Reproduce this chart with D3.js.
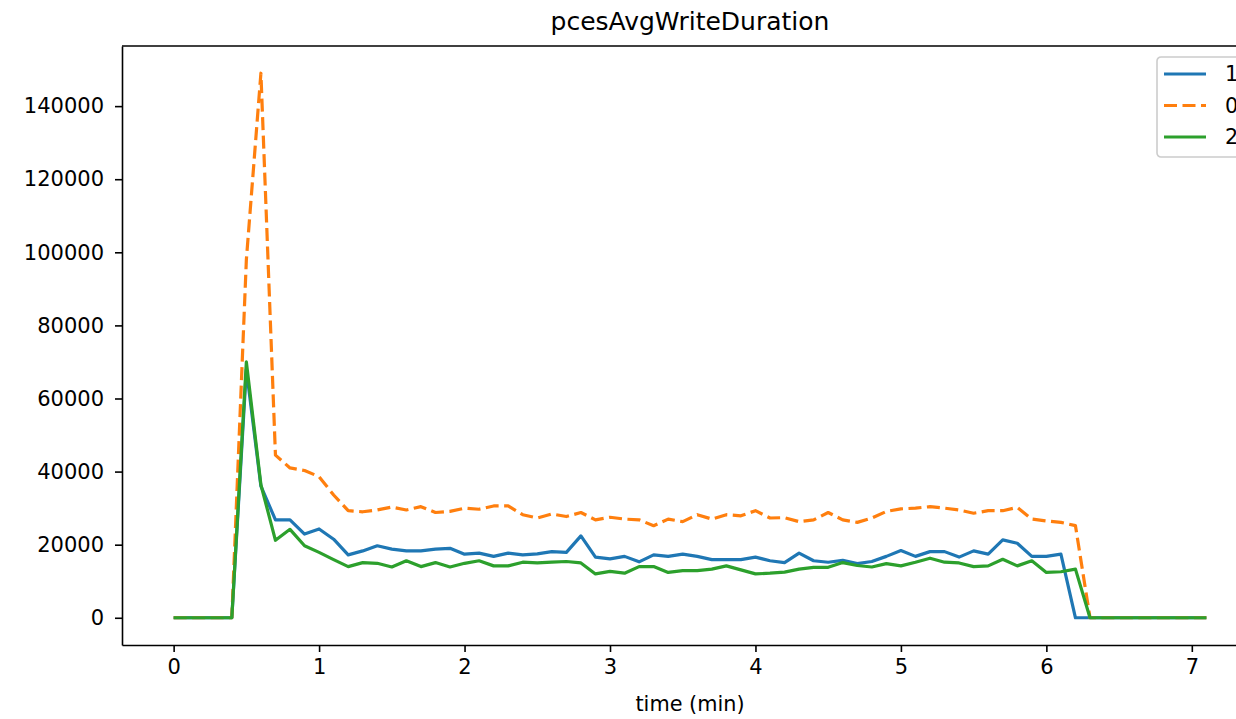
<!DOCTYPE html>
<meta charset="utf-8">

<script src="https://d3js.org/d3.v7.min.js"></script>

<style type="text/css">
  body {
    margin: 0;
    background: #fff;
  }

  svg {
    display: block;
    font-family: "DejaVu Sans", sans-serif;
  }

  .axis text {
    font-family: "DejaVu Sans", sans-serif;
    font-size: 21px;
    fill: #000;
  }

  .axis line,
  .axis path {
    stroke: #000;
    stroke-width: 1.6;
  }
</style>

<body>
</body>

<script>

  // time (min) of each sample
  let times = [
    0.0, 0.1, 0.2, 0.3, 0.4, 0.5, 0.6, 0.7, 0.8, 0.9,
    1.0, 1.1, 1.2, 1.3, 1.4, 1.5, 1.6, 1.7, 1.8, 1.9,
    2.0, 2.1, 2.2, 2.3, 2.4, 2.5, 2.6, 2.7, 2.8, 2.9,
    3.0, 3.1, 3.2, 3.3, 3.4, 3.5, 3.6, 3.7, 3.8, 3.9,
    4.0, 4.1, 4.2, 4.3, 4.4, 4.5, 4.6, 4.7, 4.8, 4.9,
    5.0, 5.1, 5.2, 5.3, 5.4, 5.5, 5.6, 5.7, 5.8, 5.9,
    6.0, 6.1, 6.2, 6.3, 6.4, 6.5, 6.6, 6.7, 6.8, 6.9,
    7.0, 7.1
  ];

  let series1 = [
    0, 0, 0, 0, 0, 68000, 36000, 26800, 26800, 22900,
    24300, 21500, 17200, 18300, 19700, 18800, 18300, 18300, 18800, 19000,
    17400, 17700, 16800, 17700, 17200, 17500, 18100, 17900, 22400, 16600,
    16100, 16800, 15300, 17200, 16800, 17400, 16800, 15900, 15900, 15900,
    16600, 15600, 15100, 17700, 15600, 15200, 15700, 14800, 15400, 16800,
    18400, 16800, 18100, 18100, 16600, 18300, 17400, 21300, 20400, 16800,
    16800, 17400, 0, 0, 0, 0, 0, 0, 0, 0,
    0, 0
  ];

  let series0 = [
    0, 0, 0, 0, 0, 98000, 149000, 44500, 41000, 40300,
    38600, 33600, 29300, 29000, 29500, 30300, 29500, 30400, 28800, 29100,
    30000, 29700, 30600, 30600, 28200, 27300, 28400, 27700, 28800, 26800,
    27500, 27000, 26800, 25200, 27000, 26300, 28200, 27000, 28200, 27900,
    29300, 27300, 27400, 26300, 26800, 28800, 26800, 26100, 27300, 29100,
    29800, 30000, 30400, 30000, 29500, 28600, 29300, 29300, 30200, 27000,
    26500, 26100, 25200, 0, 0, 0, 0, 0, 0, 0,
    0, 0
  ];

  let series2 = [
    0, 0, 0, 0, 0, 70000, 36400, 21200, 24200, 19700,
    17900, 15900, 14000, 15100, 14900, 13900, 15600, 14000, 15100, 13900,
    14900, 15600, 14200, 14200, 15200, 15000, 15200, 15400, 15000, 12000,
    12700, 12200, 14000, 14000, 12400, 12900, 12900, 13300, 14200, 13100,
    12000, 12200, 12500, 13300, 13800, 13800, 15100, 14300, 13900, 14800,
    14200, 15200, 16300, 15200, 15000, 14000, 14200, 16000, 14200, 15600,
    12400, 12600, 13300, 0, 0, 0, 0, 0, 0, 0,
    0, 0
  ];

  let seriesNames = ['1', '0', '2'];
  let seriesColors = ['#1f77b4', '#ff7f0e', '#2ca02c'];
  let seriesDash = [null, '13,5.5', null];
  let xTicks = [0, 1, 2, 3, 4, 5, 6, 7];
  let yTicks = [0, 20000, 40000, 60000, 80000, 100000, 120000, 140000];

  let allSeries = [series1, series0, series2];

  let W = 1236, H = 719;
  let margin = { top: 46, right: -22, bottom: 74, left: 122 };
  let width = W - margin.left - margin.right,
    height = H - margin.top - margin.bottom;

  let svg = d3.select("body").append("svg")
    .attr("width", W)
    .attr("height", H)
    .append("g")
    .attr("transform", "translate(" + margin.left + "," + margin.top + ")");

  // matplotlib style 5% margins
  let xMin = d3.min(times), xMax = d3.max(times);
  let xPad = (xMax - xMin) * 0.05;
  let yMax = d3.max(allSeries, s => d3.max(s));
  let yPad = yMax * 0.05;

  let xScale = d3.scaleLinear()
    .domain([xMin - xPad, xMax + xPad])
    .range([0, width]);

  let yScale = d3.scaleLinear()
    .domain([-yPad, yMax + yPad])
    .range([height, 0]);

  let xAxis = d3.axisBottom(xScale)
    .tickValues(xTicks)
    .tickFormat(d3.format('d'))
    .tickSize(7)
    .tickSizeOuter(0)
    .tickPadding(7);

  let yAxis = d3.axisLeft(yScale)
    .tickValues(yTicks)
    .tickFormat(d3.format('d'))
    .tickSize(7)
    .tickSizeOuter(0)
    .tickPadding(11);

  let line = d3.line()
    .x((d, i) => xScale(times[i]))
    .y(d => yScale(d));

  svg.selectAll('.series')
    .data(allSeries).enter().append('path')
    .attr('class', 'series')
    .attr('d', d => line(d))
    .attr('fill', 'none')
    .attr('stroke', (d, i) => seriesColors[i])
    .attr('stroke-width', 3.2)
    .attr('stroke-linejoin', 'round')
    .attr('stroke-dasharray', (d, i) => seriesDash[i]);

  svg.append('g')
    .attr('class', 'x axis')
    .attr('transform', `translate(0, ${height})`)
    .call(xAxis);

  svg.append('g')
    .attr('class', 'y axis')
    .call(yAxis);

  // top and right spines
  svg.append('line')
    .attr('x1', 0).attr('x2', width)
    .attr('y1', 0).attr('y2', 0)
    .attr('stroke', '#000').attr('stroke-width', 1.6);
  svg.append('line')
    .attr('x1', width).attr('x2', width)
    .attr('y1', 0).attr('y2', height)
    .attr('stroke', '#000').attr('stroke-width', 1.6);

  svg.append('text')
    .attr('x', width / 2)
    .attr('y', -16)
    .attr('text-anchor', 'middle')
    .style('font-size', '25px')
    .text('pcesAvgWriteDuration');

  svg.append('text')
    .attr('x', width / 2)
    .attr('y', height + 66)
    .attr('text-anchor', 'middle')
    .style('font-size', '20.8px')
    .text('time (min)');

  // legend, upper right (partly past the edge, as in the original)
  let legend = svg.append('g')
    .attr('class', 'legend')
    .attr('transform', `translate(${width - 101}, 11)`);

  legend.append('rect')
    .attr('width', 90.5)
    .attr('height', 100)
    .attr('rx', 4)
    .attr('fill', '#fff')
    .attr('fill-opacity', 0.8)
    .attr('stroke', '#cccccc')
    .attr('stroke-width', 1.6);

  let item = legend.selectAll('.item')
    .data(seriesNames).enter().append('g')
    .attr('class', 'item')
    .attr('transform', (d, i) => `translate(0, ${17 + i * 31.5})`);

  item.append('line')
    .attr('x1', 7).attr('x2', 49)
    .attr('stroke', (d, i) => seriesColors[i])
    .attr('stroke-width', 3.2)
    .attr('stroke-dasharray', (d, i) => seriesDash[i]);

  item.append('text')
    .attr('x', 68)
    .attr('dy', '0.35em')
    .style('font-size', '20.8px')
    .text(d => d);

</script>
